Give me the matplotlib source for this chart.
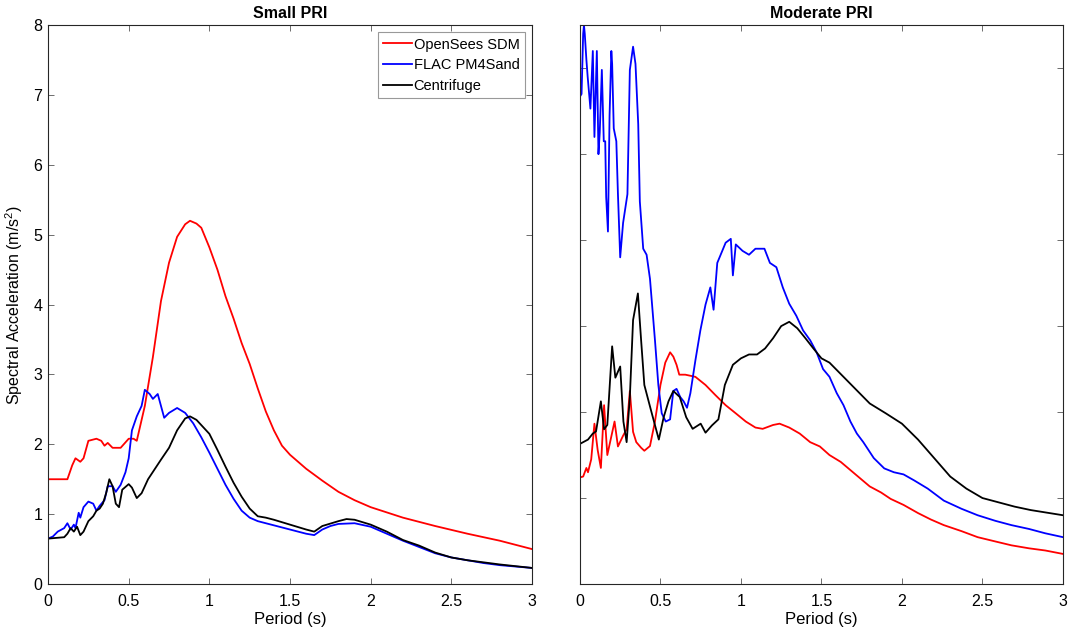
import numpy as np
import matplotlib
matplotlib.use("Agg")
import matplotlib.pyplot as plt

plt.rcParams['font.family'] = ['Liberation Sans', 'DejaVu Sans']
plt.rcParams['mathtext.default'] = 'regular'

# Small PRI
small_sdm_t = [0, 0.12, 0.15, 0.17, 0.2, 0.22, 0.25, 0.3, 0.33, 0.35, 0.37, 0.4, 0.45, 0.5, 0.53,
               0.55, 0.6, 0.65, 0.7, 0.75, 0.8, 0.85, 0.88, 0.92, 0.95, 1.0, 1.05, 1.1, 1.15, 1.2,
               1.25, 1.3, 1.35, 1.4, 1.45, 1.5, 1.6, 1.7, 1.8, 1.9, 2.0, 2.2, 2.4, 2.6, 2.8, 3.0]
small_sdm_sa = [1.5, 1.5, 1.7, 1.8, 1.75, 1.8, 2.05, 2.08, 2.05, 1.98, 2.02, 1.95, 1.95, 2.08, 2.08,
                2.05, 2.55, 3.25, 4.05, 4.6, 4.97, 5.15, 5.2, 5.16, 5.1, 4.82, 4.5, 4.12, 3.8, 3.45,
                3.15, 2.8, 2.47, 2.2, 1.98, 1.85, 1.65, 1.48, 1.32, 1.2, 1.1, 0.95, 0.83, 0.72, 0.62, 0.5]

small_flac_t = [0, 0.03, 0.06, 0.1, 0.12, 0.14, 0.16, 0.17, 0.19, 0.2, 0.22, 0.25, 0.28, 0.3, 0.32,
                0.35, 0.37, 0.4, 0.42, 0.45, 0.48, 0.5, 0.52, 0.55, 0.58, 0.6, 0.63, 0.65, 0.68, 0.7,
                0.72, 0.75, 0.8, 0.85, 0.9, 0.95, 1.0, 1.05, 1.1, 1.15, 1.2, 1.25, 1.3, 1.4, 1.5,
                1.6, 1.65, 1.7, 1.75, 1.8, 1.9, 2.0, 2.1, 2.2, 2.3, 2.4, 2.5, 2.6, 2.7, 2.8, 2.9, 3.0]
small_flac_sa = [0.65, 0.68, 0.75, 0.8, 0.87, 0.78, 0.85, 0.8, 1.02, 0.95, 1.1, 1.18, 1.15, 1.05, 1.12,
                 1.2, 1.4, 1.4, 1.32, 1.42, 1.6, 1.8, 2.2, 2.4, 2.55, 2.78, 2.72, 2.65, 2.72, 2.55,
                 2.38, 2.45, 2.52, 2.45, 2.3, 2.1, 1.88, 1.65, 1.42, 1.22, 1.05, 0.95, 0.9, 0.84, 0.78,
                 0.72, 0.7, 0.78, 0.83, 0.86, 0.87, 0.82, 0.72, 0.62, 0.53, 0.44, 0.38, 0.34, 0.3, 0.27, 0.25, 0.23]

small_cent_t = [0, 0.1, 0.12, 0.14, 0.16, 0.18, 0.2, 0.22, 0.25, 0.28, 0.3, 0.32, 0.34, 0.36, 0.38,
                0.4, 0.42, 0.44, 0.46, 0.5, 0.52, 0.55, 0.58, 0.62, 0.7, 0.75, 0.8, 0.85, 0.88, 0.92,
                1.0, 1.05, 1.1, 1.15, 1.2, 1.25, 1.3, 1.35, 1.4, 1.5, 1.6, 1.65, 1.7, 1.8, 1.85, 1.9,
                2.0, 2.1, 2.2, 2.3, 2.4, 2.5, 2.6, 2.8, 3.0]
small_cent_sa = [0.65, 0.67, 0.72, 0.8, 0.75, 0.82, 0.7, 0.75, 0.9, 0.97, 1.05, 1.08, 1.15, 1.3, 1.5,
                 1.4, 1.15, 1.1, 1.35, 1.43, 1.38, 1.23, 1.3, 1.5, 1.78, 1.95, 2.2, 2.37, 2.4, 2.35,
                 2.15, 1.92, 1.68, 1.45, 1.25, 1.08, 0.97, 0.95, 0.92, 0.85, 0.78, 0.75, 0.83, 0.9, 0.93, 0.92,
                 0.85, 0.75, 0.63, 0.55, 0.45, 0.38, 0.34, 0.28, 0.23]

# Moderate PRI
mod_sdm_t = [0, 0.02, 0.04, 0.05, 0.07, 0.09, 0.11, 0.13, 0.15, 0.17, 0.215, 0.236, 0.268, 0.29, 0.31,
             0.33, 0.35, 0.38, 0.4, 0.435, 0.466, 0.5, 0.53, 0.56, 0.58, 0.6, 0.617, 0.654, 0.717,
             0.78, 0.84, 0.905, 0.968, 1.03, 1.09, 1.135, 1.2, 1.24, 1.3, 1.365, 1.43, 1.49, 1.55,
             1.62, 1.68, 1.74, 1.8, 1.87, 1.93, 2.01, 2.1, 2.18, 2.26, 2.37, 2.47, 2.58, 2.68, 2.79, 2.89, 3.0]
mod_sdm_sa = [2.48, 2.5, 2.7, 2.6, 2.9, 3.73, 3.12, 2.7, 4.16, 3.0, 3.78, 3.2, 3.45, 3.6, 4.49,
              3.54, 3.3, 3.17, 3.1, 3.21, 3.78, 4.63, 5.15, 5.39, 5.29, 5.1, 4.87, 4.87, 4.82,
              4.63, 4.4, 4.16, 3.97, 3.78, 3.64, 3.61, 3.7, 3.73, 3.64, 3.5, 3.3, 3.2, 3.0,
              2.84, 2.65, 2.46, 2.27, 2.13, 1.98, 1.84, 1.65, 1.5, 1.37, 1.23, 1.09, 0.99, 0.9, 0.83, 0.78, 0.7]

mod_flac_t = [0, 0.01, 0.02, 0.025, 0.03, 0.04, 0.048, 0.065, 0.08, 0.09, 0.105, 0.115, 0.123, 0.136,
              0.148, 0.157, 0.163, 0.174, 0.184, 0.195, 0.2, 0.21, 0.226, 0.236, 0.25, 0.268, 0.295,
              0.31, 0.33, 0.345, 0.362, 0.372, 0.393, 0.414, 0.435, 0.466, 0.487, 0.508, 0.533, 0.56,
              0.58, 0.6, 0.623, 0.644, 0.665, 0.686, 0.717, 0.748, 0.78, 0.81, 0.83, 0.853, 0.884,
              0.905, 0.937, 0.95, 0.968, 1.01, 1.05, 1.09, 1.146, 1.18, 1.22, 1.26, 1.3, 1.344, 1.386,
              1.43, 1.47, 1.51, 1.55, 1.595, 1.637, 1.68, 1.72, 1.76, 1.825, 1.89, 1.95, 2.01, 2.076,
              2.16, 2.26, 2.37, 2.47, 2.58, 2.68, 2.79, 2.89, 3.0]
mod_flac_sa = [11.34, 11.4, 12.8, 13.0, 12.8, 12.2, 11.8, 11.06, 12.4, 10.4, 12.4, 10.0, 10.5, 11.96,
               10.3, 10.3, 9.0, 8.2, 10.9, 12.4, 12.1, 10.6, 10.3, 9.07, 7.6, 8.4, 9.07,
               11.96, 12.5, 12.1, 10.7, 8.9, 7.8, 7.66, 7.1, 5.67, 4.63, 3.97, 3.78, 3.83,
               4.49, 4.54, 4.35, 4.25, 4.1, 4.44, 5.2, 5.9, 6.5, 6.9, 6.38, 7.47, 7.75,
               7.94, 8.03, 7.18, 7.9, 7.75, 7.66, 7.8, 7.8, 7.47, 7.37, 6.9, 6.52, 6.24, 5.9,
               5.67, 5.39, 5.0, 4.82, 4.44, 4.16, 3.78, 3.5, 3.3, 2.93, 2.69, 2.6, 2.55, 2.41,
               2.22, 1.94, 1.75, 1.6, 1.47, 1.37, 1.28, 1.18, 1.09]

mod_cent_t = [0, 0.05, 0.08, 0.1, 0.13, 0.15, 0.17, 0.2, 0.22, 0.25, 0.27, 0.29, 0.31, 0.33, 0.36,
              0.38, 0.4, 0.44, 0.48, 0.49, 0.52, 0.55, 0.58, 0.62, 0.66, 0.7, 0.75, 0.78, 0.82, 0.86,
              0.9, 0.95, 1.0, 1.05, 1.1, 1.15, 1.2, 1.25, 1.3, 1.35, 1.4, 1.45, 1.5, 1.55, 1.6, 1.7,
              1.8, 1.9, 2.0, 2.1, 2.2, 2.3, 2.4, 2.5, 2.6, 2.7, 2.8, 2.9, 3.0]
mod_cent_sa = [3.26, 3.36, 3.5, 3.55, 4.25, 3.6, 3.7, 5.53, 4.8, 5.06, 3.78, 3.3, 4.35, 6.14, 6.76,
               5.67, 4.63, 4.06, 3.5, 3.36, 3.88, 4.25, 4.49, 4.35, 3.88, 3.61, 3.73, 3.52, 3.69, 3.83,
               4.63, 5.1, 5.25, 5.34, 5.34, 5.48, 5.72, 6.0, 6.1, 5.95, 5.72, 5.48, 5.25, 5.15, 4.96, 4.58,
               4.2, 3.97, 3.73, 3.36, 2.93, 2.5, 2.22, 2.0, 1.9, 1.8, 1.72, 1.66, 1.6]

labels = ["OpenSees SDM", "FLAC PM4Sand", "Centrifuge"]
colors = ["#ff0000", "#0000ff", "#000000"]

fig = plt.figure(figsize=(10.7, 6.3), dpi=100)
ax1 = fig.add_axes([0.0449, 0.073, 0.4523, 0.887])
ax2 = fig.add_axes([0.542, 0.073, 0.4514, 0.887])

for ax, data in [(ax1, [(small_sdm_t, small_sdm_sa), (small_flac_t, small_flac_sa), (small_cent_t, small_cent_sa)]),
                 (ax2, [(mod_sdm_t, mod_sdm_sa), (mod_flac_t, mod_flac_sa), (mod_cent_t, mod_cent_sa)])]:
    for (t, sa), lab, c in zip(data, labels, colors):
        ax.plot(t, sa, color=c, lw=1.3, label=lab)
    ax.set_xlim(0, 3)
    ax.set_xticks([0, 0.5, 1, 1.5, 2, 2.5, 3])
    ax.set_xticklabels(["0", "0.5", "1", "1.5", "2", "2.5", "3"])
    ax.tick_params(direction="in", top=True, right=True, length=4, width=0.6,
                   color="#555555", labelsize=11.5)
    ax.tick_params(axis="x", pad=7)
    ax.tick_params(axis="y", pad=4)
    for s in ax.spines.values():
        s.set_color("#262626")
        s.set_linewidth(0.8)
    ax.set_xlabel("Period (s)", fontsize=12, labelpad=2)

ax1.set_ylim(0, 8)
ax1.set_yticks(range(0, 9))
ax1.set_ylabel("Spectral Acceleration (m/s$^2$)", fontsize=11.5, labelpad=6)
ax1.set_title("Small PRI", fontsize=11.5, fontweight="bold", pad=5)

ax2.set_ylim(0, 13)
ax2.set_yticks(range(0, 14, 2))
ax2.set_yticklabels([])
ax2.set_title("Moderate PRI", fontsize=11.5, fontweight="bold", pad=5)

leg = ax1.legend(loc="upper right", fontsize=10.5, handlelength=2.0, handletextpad=0.1,
                 borderpad=0.35, labelspacing=0.45, borderaxespad=0.5, fancybox=False,
                 framealpha=1)
leg.get_frame().set_edgecolor("#999999")
leg.get_frame().set_linewidth(0.8)

fig.savefig("out.png", dpi=100)
